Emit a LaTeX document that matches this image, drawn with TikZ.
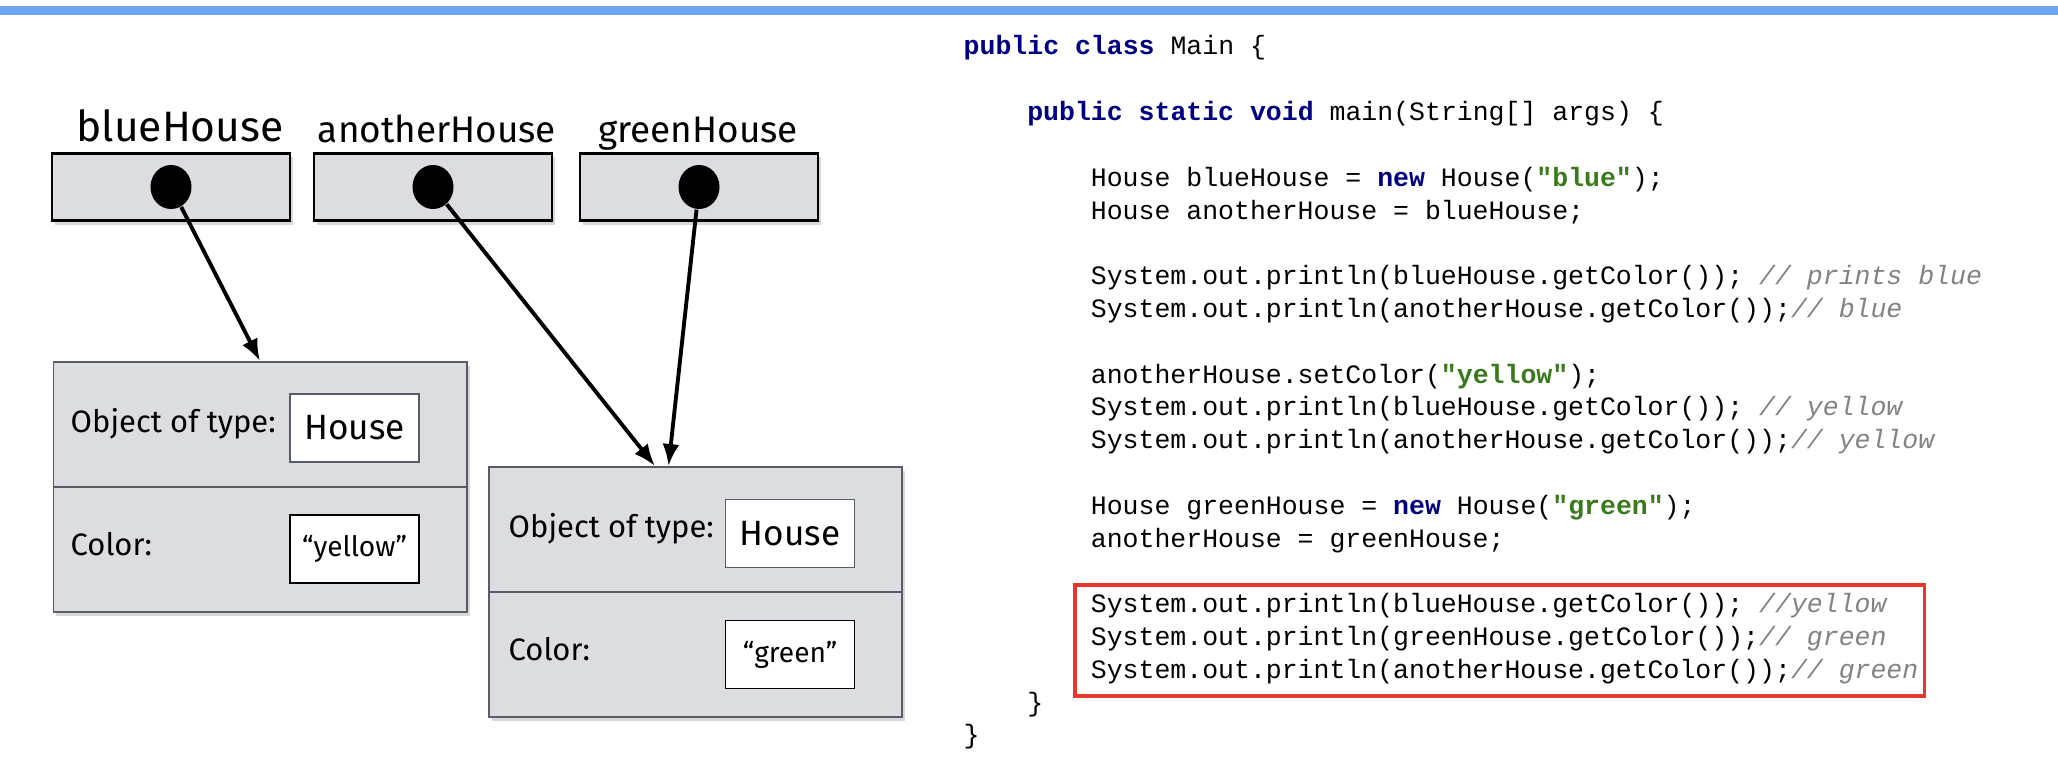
\documentclass[tikz,border=0pt]{standalone}
\usepackage{fontspec}
\setsansfont{Fira Sans}
\newfontfamily\codefont{Liberation Mono}
\usepackage{xcolor}
\usetikzlibrary{
	shapes.geometric,
	arrows.meta,
	positioning,
	shadows
}

\definecolor{boxgray}{RGB}{220,221,224}
\definecolor{edgegray}{RGB}{88,92,100}
\definecolor{kwnavy}{RGB}{0,0,128}
\definecolor{strgreen}{RGB}{58,122,28}
\definecolor{cmtgray}{RGB}{130,130,130}
\definecolor{barblue}{RGB}{108,166,240}
\definecolor{hlred}{RGB}{232,55,44}

% Java syntax colouring
\newcommand{\jkw}[1]{{\bfseries\color{kwnavy}#1}}
\newcommand{\jstr}[1]{{\bfseries\color{strgreen}#1}}
\newcommand{\jcmt}[1]{{\itshape\color{cmtgray}#1}}
% one line of the listing: name, line number, indent, text
\newcommand{\codeline}[4]{\node[code] (#1) at ({963+15.9*#3}, {55+32.8*#2}) {#4};}

\begin{document}
\begin{tikzpicture}[
        x=0.01cm, y=-0.01cm,
        font=\sffamily,
        % reference variable box
        varbox/.style={
            rectangle, draw=black, line width=0.6pt,
            fill=boxgray,
            minimum width=2.37cm,
            minimum height=0.67cm,
            inner sep=0pt,
            drop shadow={shadow xshift=0.03cm, shadow yshift=-0.04cm, fill=black!30}
        },
        % object on the heap
        objbox/.style={
            rectangle, draw=edgegray, line width=0.5pt,
            fill=boxgray,
            minimum width=4.13cm,
            minimum height=2.5cm,
            inner sep=0pt,
            drop shadow={shadow xshift=0.03cm, shadow yshift=-0.04cm, fill=black!30}
        },
        % white field value
        valbox/.style={
            rectangle, draw=black, line width=0.5pt, fill=white,
            minimum width=1.29cm,
            minimum height=0.68cm,
            inner sep=0pt
        },
        pin/.style={ellipse, fill=black, minimum width=0.41cm, minimum height=0.44cm, inner sep=0pt},
        varname/.style={anchor=base, inner sep=0pt, font=\sffamily\fontsize{10.5}{12}\selectfont},
        field/.style={anchor=base west, inner sep=0pt, font=\sffamily\fontsize{8.8}{11}\selectfont},
        code/.style={anchor=base west, inner sep=0pt, font=\codefont\fontsize{7.54}{9}\selectfont},
        ptr/.style={-{Latex[length=0.22cm,width=0.17cm]}, line width=1.1pt}
    ]

        \useasboundingbox (0,0) rectangle (2058,770);

        % title bar
        \fill[barblue] (0,6) rectangle (2058,15);

        % ====================
        % reference variables
        % ====================

        \node[varbox] (refB) at (171,187) {};
        \node[varbox] (refA) at (433,187) {};
        \node[varbox] (refG) at (699,187) {};

        \node[varname, font=\sffamily\fontsize{12.1}{14}\selectfont] (nameB) at (180,142) {blueHouse};
        \node[varname] (nameA) at (437,143) {anotherHouse};
        \node[varname] (nameG) at (698,143) {greenHouse};

        \node[pin] (pinB) at (refB) {};
        \node[pin] (pinA) at (refA) {};
        \node[pin] (pinG) at (refG) {};

        % ====================
        % objects
        % ====================

        % blue house, now yellow
        \node[objbox] (obj1) at (260,487) {};
        \draw[edgegray, line width=0.5pt] (obj1.west) -- (obj1.east);
        \node[field] (type1) at (70,432) {Object of type:};
        \node[valbox, draw=edgegray, font=\sffamily\fontsize{10}{12}\selectfont] (cls1) at (354.5,428) {House};
        \node[field] (col1) at (70,555) {Color:};
        \node[valbox, font=\sffamily\fontsize{8}{10}\selectfont] (val1) at (354.5,549) {“yellow”};

        % green house
        \node[objbox] (obj2) at (695.5,592) {};
        \draw[edgegray, line width=0.5pt] (obj2.west) -- (obj2.east);
        \node[field] (type2) at (508,537) {Object of type:};
        \node[valbox, draw=edgegray, font=\sffamily\fontsize{10}{12}\selectfont] (cls2) at (790,533.5) {House};
        \node[field] (col2) at (508,660) {Color:};
        \node[valbox, font=\sffamily\fontsize{8}{10}\selectfont] (val2) at (790,654.5) {“green”};

        % ====================
        % pointers
        % ====================

        \draw[ptr] (pinB) -- (obj1.north);
        \draw[ptr] (pinA) -- ([xshift=-0.405cm]obj2.north);
        \draw[ptr] (pinG) -- ([xshift=-0.27cm]obj2.north);

        % ====================
        % listing
        % ====================

        \codeline{L0}{0}{0}{\jkw{public class} Main \{}
        \codeline{L2}{2}{4}{\jkw{public static void} main(String[] args) \{}
        \codeline{L4}{4}{8}{House blueHouse = \jkw{new} House(\jstr{"blue"});}
        \codeline{L5}{5}{8}{House anotherHouse = blueHouse;}
        \codeline{L7}{7}{8}{System.out.println(blueHouse.getColor()); \jcmt{// prints blue}}
        \codeline{L8}{8}{8}{System.out.println(anotherHouse.getColor());\jcmt{// blue}}
        \codeline{L10}{10}{8}{anotherHouse.setColor(\jstr{"yellow"});}
        \codeline{L11}{11}{8}{System.out.println(blueHouse.getColor()); \jcmt{// yellow}}
        \codeline{L12}{12}{8}{System.out.println(anotherHouse.getColor());\jcmt{// yellow}}
        \codeline{L14}{14}{8}{House greenHouse = \jkw{new} House(\jstr{"green"});}
        \codeline{L15}{15}{8}{anotherHouse = greenHouse;}
        \codeline{L17}{17}{8}{System.out.println(blueHouse.getColor()); \jcmt{//yellow}}
        \codeline{L18}{18}{8}{System.out.println(greenHouse.getColor());\jcmt{// green}}
        \codeline{L19}{19}{8}{System.out.println(anotherHouse.getColor());\jcmt{// green}}
        \codeline{L20}{20}{4}{\}}
        \codeline{L21}{21}{0}{\}}

        % highlighted output lines
        \node[draw=hlred, line width=1pt, minimum width=8.49cm, minimum height=1.11cm, inner sep=0pt] (hl) at (1499.5,640.5) {};

    \end{tikzpicture}
\end{document}
